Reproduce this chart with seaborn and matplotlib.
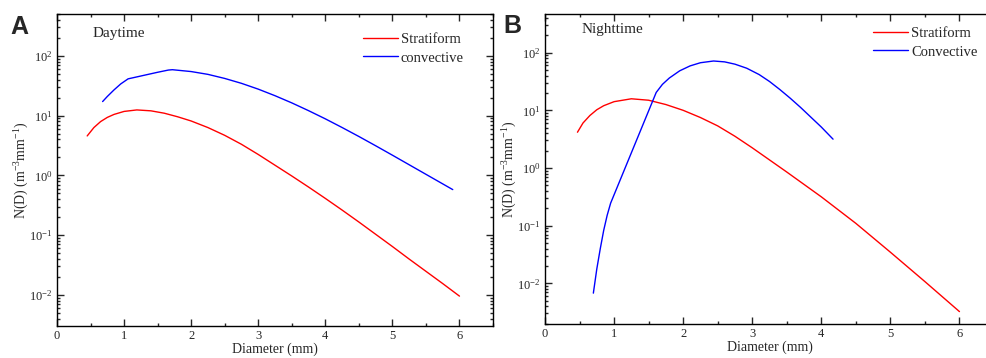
import numpy as np
import pandas as pd
import matplotlib
matplotlib.use("Agg")
import matplotlib.pyplot as plt
import matplotlib.ticker as mticker
import seaborn as sns

# ---------------- data (log10 of N(D)) ----------------
day_strat_D = [0.45, 0.55, 0.65, 0.75, 0.85, 1.0, 1.19, 1.4, 1.6, 1.8, 2.0, 2.25, 2.5, 2.75,
               3.0, 3.25, 3.5, 3.75, 4.0, 4.25, 4.5, 4.75, 5.0, 5.25, 5.5, 5.75, 6.0]
day_strat_logN = [0.66, 0.80, 0.90, 0.97, 1.02, 1.07, 1.095, 1.08, 1.04, 0.98, 0.91, 0.80, 0.67, 0.52,
                  0.35, 0.17, -0.01, -0.195, -0.385, -0.58, -0.78, -0.985, -1.19, -1.40, -1.605, -1.81, -2.02]

day_conv_D = [0.68, 0.75, 0.85, 0.95, 1.06, 1.3, 1.5, 1.66, 1.72, 2.0, 2.25, 2.5, 2.75, 3.0, 3.25,
              3.5, 3.75, 4.0, 4.25, 4.5, 4.75, 5.0, 5.25, 5.5, 5.75, 5.9]
day_conv_logN = [1.235, 1.32, 1.43, 1.53, 1.615, 1.675, 1.725, 1.762, 1.768, 1.737, 1.690, 1.622, 1.540,
                 1.443, 1.333, 1.213, 1.083, 0.946, 0.801, 0.651, 0.496, 0.338, 0.178, 0.018, -0.142, -0.238]

night_strat_D = [0.47, 0.55, 0.65, 0.75, 0.85, 1.0, 1.25, 1.5, 1.75, 2.0, 2.25, 2.5, 2.75, 3.0,
                 3.25, 3.5, 3.75, 4.0, 4.25, 4.5, 4.75, 5.0, 5.25, 5.5, 5.75, 6.0]
night_strat_logN = [0.62, 0.78, 0.91, 1.01, 1.08, 1.15, 1.20, 1.175, 1.10, 1.0, 0.875, 0.73, 0.55, 0.35,
                    0.14, -0.07, -0.285, -0.50, -0.73, -0.96, -1.21, -1.46, -1.715, -1.97, -2.23, -2.49]

night_conv_D = [0.70, 0.75, 0.80, 0.85, 0.90, 0.95, 1.28, 1.61, 1.7, 1.8, 1.95, 2.1, 2.25, 2.44,
                2.6, 2.75, 2.92, 3.1, 3.25, 3.4, 3.55, 3.7, 3.85, 4.0, 4.17]
night_conv_logN = [-2.17, -1.75, -1.40, -1.08, -0.82, -0.61, 0.35, 1.31, 1.45, 1.56, 1.685, 1.77, 1.825,
                   1.855, 1.84, 1.80, 1.73, 1.62, 1.50, 1.36, 1.21, 1.05, 0.88, 0.71, 0.50]

day_labels = ["Stratiform", "convective"]
night_labels = ["Stratiform", "Convective"]
panel_titles = ["Daytime", "Nighttime"]
panel_letters = ["A", "B"]
x_ticks = [0, 1, 2, 3, 4, 5, 6]


def make_df(D1, L1, D2, L2, labels):
    d1 = pd.DataFrame({"D": D1, "N": np.power(10.0, L1), "type": labels[0]})
    d2 = pd.DataFrame({"D": D2, "N": np.power(10.0, L2), "type": labels[1]})
    return pd.concat([d1, d2], ignore_index=True)


df_day = make_df(day_strat_D, day_strat_logN, day_conv_D, day_conv_logN, day_labels)
df_night = make_df(night_strat_D, night_strat_logN, night_conv_D, night_conv_logN, night_labels)

# ---------------- style ----------------
sns.set_style("ticks")
plt.rcParams["font.family"] = ["Liberation Serif", "DejaVu Serif"]
plt.rcParams["mathtext.fontset"] = "custom"
plt.rcParams["mathtext.rm"] = "Liberation Serif"
plt.rcParams["mathtext.it"] = "Liberation Serif:italic"
plt.rcParams["mathtext.bf"] = "Liberation Serif:bold"
plt.rcParams["axes.linewidth"] = 1.0
plt.rcParams["axes.unicode_minus"] = False

fig = plt.figure(figsize=(9.86, 3.58), dpi=100)
axA = fig.add_axes([57 / 986, 1 - 326 / 358, 436 / 986, 312 / 358])
axB = fig.add_axes([545 / 986, 1 - 324 / 358, 449 / 986, 310 / 358])

configs = [
    (axA, df_day, day_labels, (10 ** -2.52, 10 ** 2.70), (363 - 57) / 436, 1 - (33 - 14) / 312,
     (93 - 57) / 436, 1 - (33 - 14) / 312, 10, 27),
    (axB, df_night, night_labels, (10 ** -2.705, 10 ** 2.67), (873 - 545) / 449, 1 - (27 - 14) / 310,
     (582 - 545) / 449, 1 - (30 - 14) / 310, 503, 26),
]


def log_fmt(v, pos):
    e = int(np.round(np.log10(v)))
    return r"$\mathdefault{10^{%d}}$" % e


for i, (ax, df, labels, ylim, lgx, lgy, tx, ty, lx, ly) in enumerate(configs):
    sns.lineplot(data=df, x="D", y="N", hue="type", hue_order=labels,
                 palette=["#ff0000", "#0000ff"], ax=ax, linewidth=1.0, sort=False,
                 estimator=None)
    ax.set_yscale("log")
    ax.set_xlim(0, 6.5)
    ax.set_ylim(*ylim)
    ax.set_xticks(x_ticks)
    ax.set_xticklabels([str(t) for t in x_ticks])
    ax.xaxis.set_minor_locator(mticker.MultipleLocator(0.5))
    ax.yaxis.set_major_locator(mticker.LogLocator(base=10, numticks=10))
    ax.yaxis.set_minor_locator(mticker.LogLocator(base=10, subs=np.arange(2, 10), numticks=20))
    ax.yaxis.set_major_formatter(mticker.FuncFormatter(log_fmt))
    ax.yaxis.set_minor_formatter(mticker.NullFormatter())
    ax.tick_params(which="both", direction="in", top=True, right=True,
                   labelsize=9, width=1.0, pad=3)
    ax.tick_params(which="major", length=5)
    ax.tick_params(which="minor", length=2.5)
    for sp in ax.spines.values():
        sp.set_color("black")
        sp.set_linewidth(1.0)
    ax.set_xlabel("Diameter (mm)", fontsize=10, labelpad=0)
    ax.set_ylabel(r"N(D) (m$^{\mathdefault{-3}}$mm$^{\mathdefault{-1}}$)", fontsize=10, labelpad=-1)
    ax.legend(loc="upper left", bbox_to_anchor=(lgx, lgy), frameon=False,
              fontsize=10.5, handlelength=2.4, handletextpad=0.2,
              labelspacing=0.35, borderaxespad=0, borderpad=0, title=None)
    ax.text(tx, ty, panel_titles[i], transform=ax.transAxes, fontsize=11,
            va="center", ha="left")
    fig.text(lx / 986, 1 - ly / 358, panel_letters[i], fontsize=18, fontweight="bold",
             family=["Liberation Sans", "DejaVu Sans"], va="center", ha="left")

fig.savefig("out.png", dpi=100)
